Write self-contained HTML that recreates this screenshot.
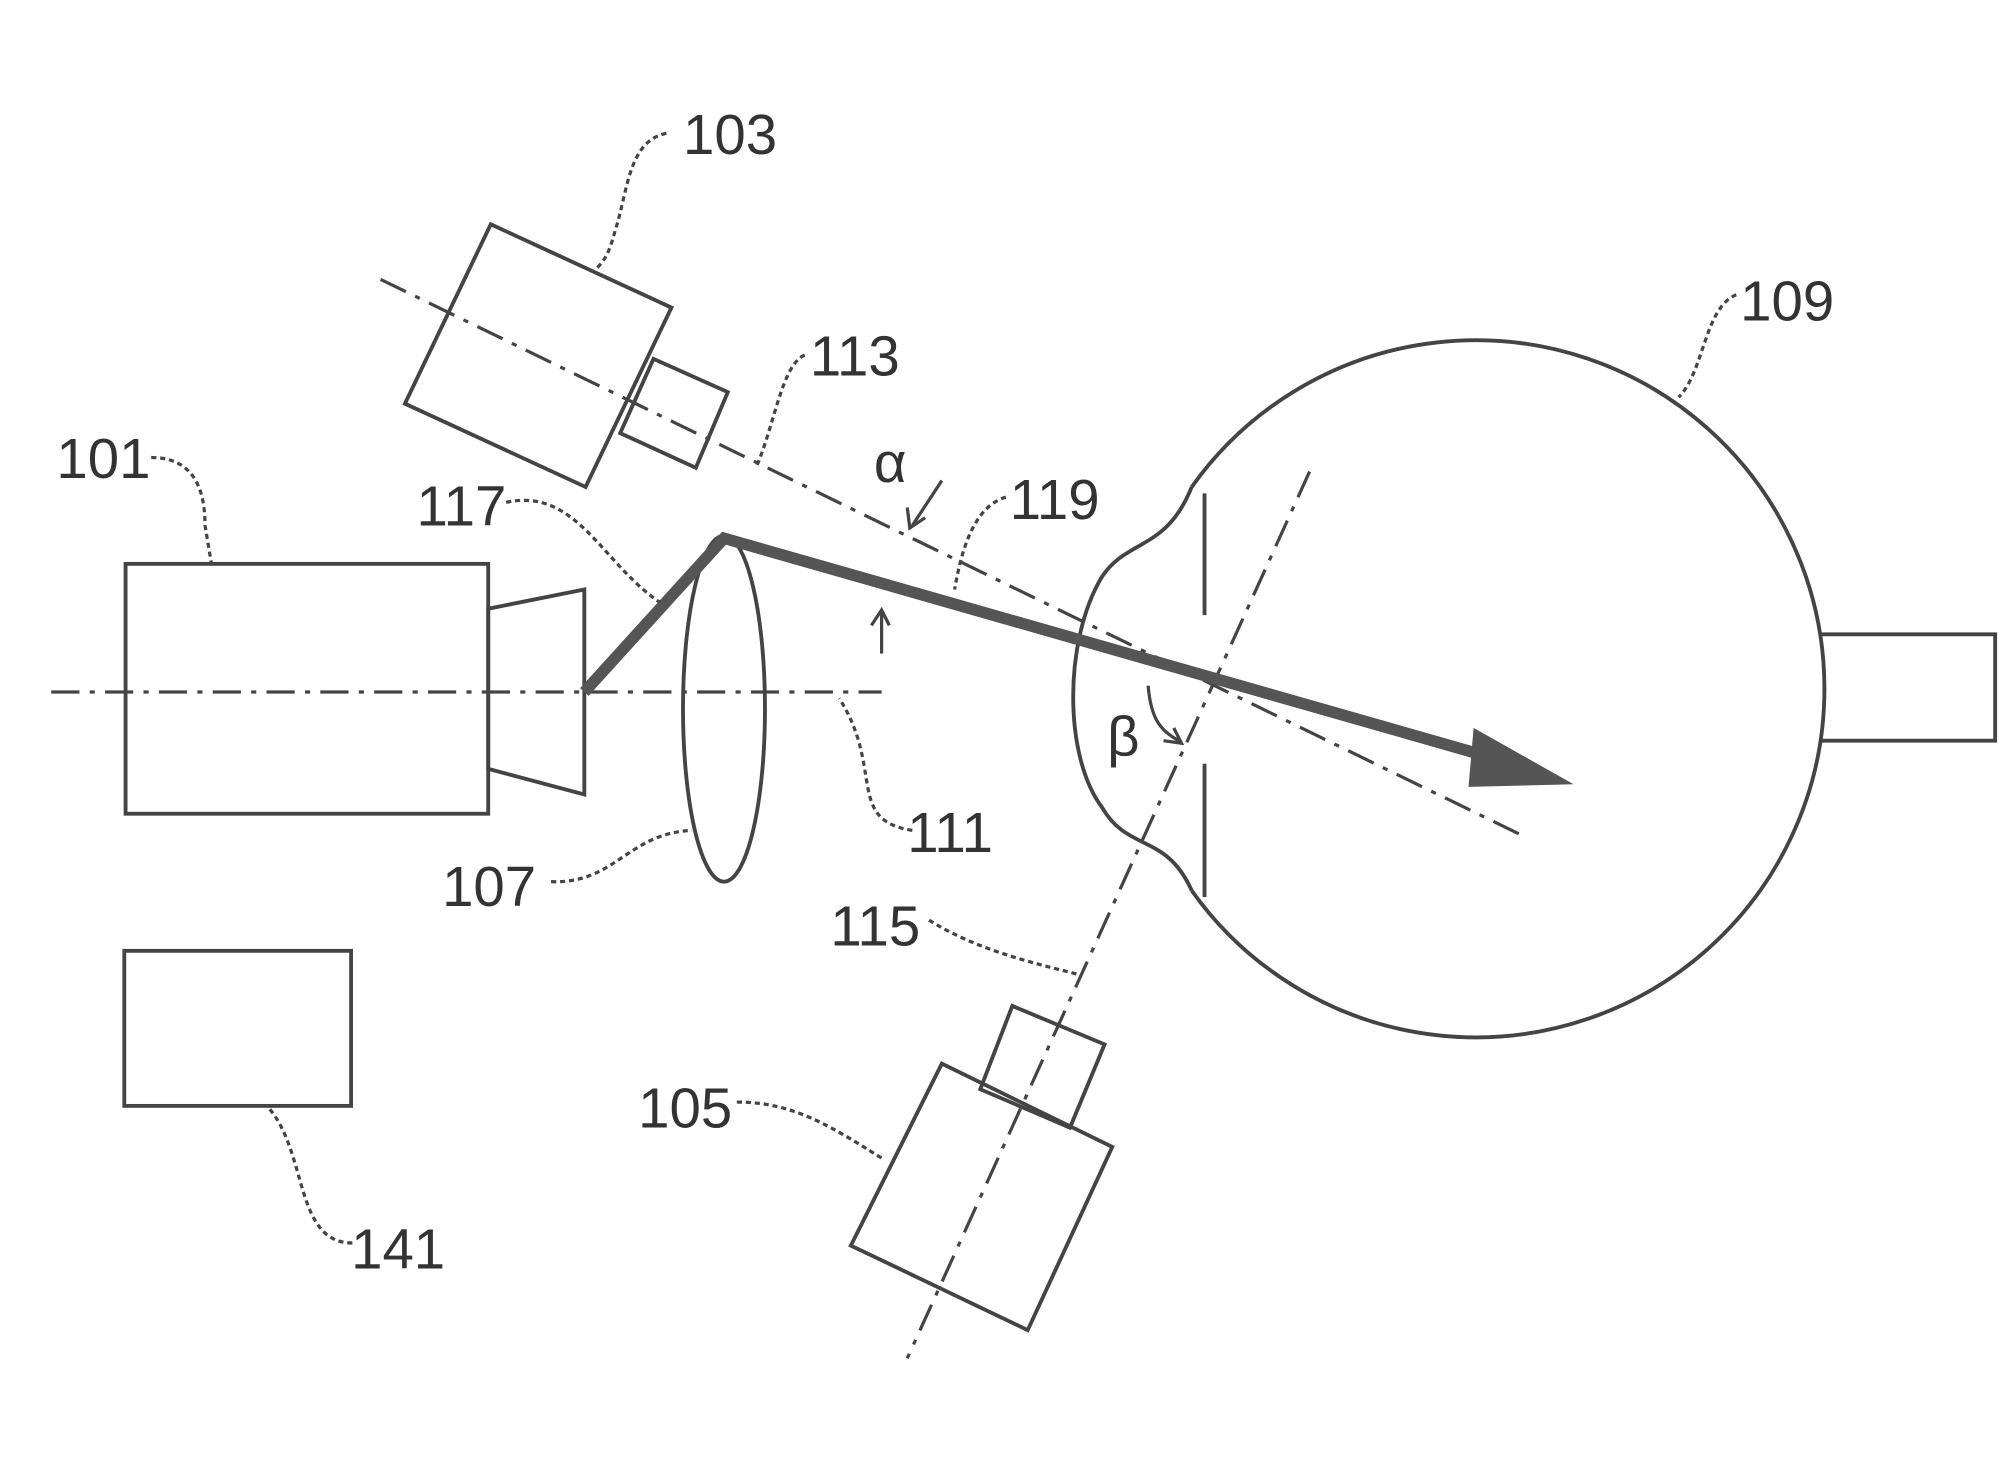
<!DOCTYPE html>
<html><head><style>
html,body{margin:0;padding:0;background:#fff;}
svg{display:block;}
text{font-family:"Liberation Sans",sans-serif;font-size:44px;fill:#333;}
</style></head><body>
<svg width="1999" height="1466" viewBox="0 0 1560 1144" xmlns="http://www.w3.org/2000/svg">
<g fill="none" stroke="#444" stroke-width="3">
<!-- 101 -->
<rect x="98" y="440" width="283" height="195"/>
<polygon points="381,475 456,460 456,620 381,600"/>
<!-- 141 -->
<rect x="97" y="742" width="177" height="121"/>
<!-- lens -->
<ellipse cx="565" cy="553" rx="32" ry="135"/>
<!-- camera 103 -->
<polygon points="383,175 524,240 457,380 316,315"/>
<polygon points="510,280 568,306 543,365 484,338"/>
<!-- camera 105 -->
<polygon points="735,830 868,895 802,1038 664,972"/>
<polygon points="790,785 862,815 835,880 765,850"/>
<!-- eye -->
<path d="M930,380 A272,272 0 1,1 930,695"/>
<path d="M930,380 C910,430 880,420 860,450 C830,500 830,590 860,630 C880,665 910,650 930,695"/>
<path d="M1420,495 L1557,495 L1557,578 L1420,578"/>
<line x1="940" y1="385" x2="940" y2="480"/>
<line x1="940" y1="596" x2="940" y2="700"/>
</g>
<g fill="none" stroke="#444" stroke-width="2.5" stroke-dasharray="22,8,4,8">
<line x1="40" y1="540" x2="688" y2="540"/>
<line x1="297" y1="218" x2="1188" y2="652"/>
<line x1="1022" y1="368" x2="708" y2="1060"/>
</g>
<!-- beam -->
<g stroke="#555" stroke-width="9" fill="none">
<polyline points="456,540 565,420 1160,590"/>
</g>
<polygon points="1150,568 1228,612 1146,614" fill="#555"/>
<!-- small arrows alpha/beta -->
<g fill="none" stroke="#444" stroke-width="2.5">
<path d="M688,510 L688,478"/><path d="M680,488 L688,476 L694,488"/>
<path d="M735,375 L712,410"/><path d="M708,396 L710,412 L722,404"/>
<path d="M896,535 C898,560 905,570 920,578"/><path d="M908,578 L922,580 L916,568"/>
</g>
<!-- leaders -->
<g fill="none" stroke="#444" stroke-width="2.5" stroke-dasharray="4,3">
<path d="M520,104 C490,110 490,150 480,180 C475,200 470,205 465,210"/>
<path d="M118,357 C150,357 160,380 160,410 L165,440"/>
<path d="M395,392 C450,380 470,440 515,470"/>
<path d="M1355,230 C1330,240 1330,290 1310,310"/>
<path d="M785,388 C760,395 750,430 745,460"/>
<path d="M628,277 C610,285 605,330 590,365"/>
<path d="M712,648 C660,640 690,600 655,545"/>
<path d="M430,688 C480,690 490,650 540,648"/>
<path d="M725,718 C760,740 800,750 840,760"/>
<path d="M575,860 C620,860 650,880 690,905"/>
<path d="M275,970 C230,970 240,900 210,865"/>
</g>
<text x="533" y="120">103</text>
<text x="44" y="373">101</text>
<text x="325" y="410">117</text>
<text x="1358" y="250">109</text>
<text x="632" y="293">113</text>
<text x="788" y="405">119</text>
<text x="682" y="376" font-size="40">α</text>
<text x="864" y="590" font-size="40">β</text>
<text x="708" y="665">111</text>
<text x="345" y="707">107</text>
<text x="648" y="738">115</text>
<text x="498" y="880">105</text>
<text x="274" y="990">141</text>
</svg>
</body></html>
